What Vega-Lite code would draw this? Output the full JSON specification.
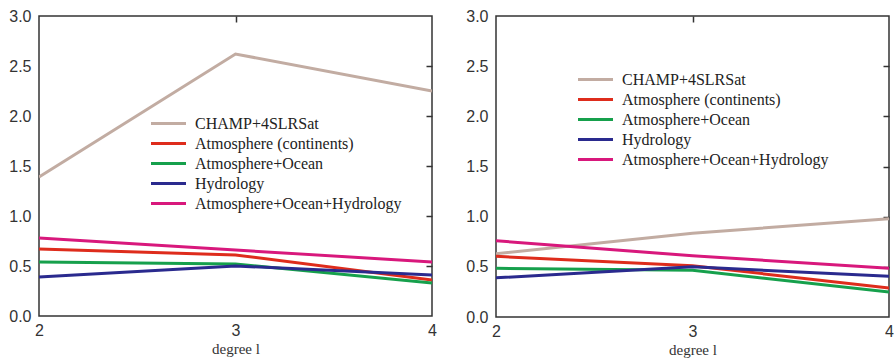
{
  "$schema": "https://vega.github.io/schema/vega-lite/v6.json",
  "background": "white",
  "padding": {"left": 8, "top": 7, "right": 6, "bottom": 0},
  "spacing": 27,
  "config": {
    "view": {"stroke": "#333333", "strokeWidth": 1.5},
    "axis": {
      "labelFont": "Liberation Sans",
      "labelFontSize": 16,
      "labelColor": "#333333",
      "titleFont": "Liberation Serif",
      "titleFontSize": 15,
      "titleFontWeight": "normal",
      "titleColor": "#333333",
      "grid": false,
      "domain": false,
      "labelOverlap": false,
      "tickColor": "#333333",
      "tickWidth": 1.5
    },
    "legend": {
      "labelFont": "Liberation Serif",
      "labelFontSize": 16,
      "labelColor": "#222222",
      "symbolType": "M-2,0H2",
      "symbolStrokeWidth": 3,
      "symbolSize": 306,
      "labelLimit": 400,
      "rowPadding": 1,
      "labelOffset": 16
    }
  },
  "datasets": {
    "rows": [
      {"panel": "L", "degree": 2, "series": "CHAMP+4SLRSat", "value": 1.39},
      {"panel": "L", "degree": 3, "series": "CHAMP+4SLRSat", "value": 2.62},
      {"panel": "L", "degree": 4, "series": "CHAMP+4SLRSat", "value": 2.25},
      {"panel": "L", "degree": 2, "series": "Atmosphere (continents)", "value": 0.67},
      {"panel": "L", "degree": 3, "series": "Atmosphere (continents)", "value": 0.61},
      {"panel": "L", "degree": 4, "series": "Atmosphere (continents)", "value": 0.36},
      {"panel": "L", "degree": 2, "series": "Atmosphere+Ocean", "value": 0.54},
      {"panel": "L", "degree": 3, "series": "Atmosphere+Ocean", "value": 0.52},
      {"panel": "L", "degree": 4, "series": "Atmosphere+Ocean", "value": 0.33},
      {"panel": "L", "degree": 2, "series": "Hydrology", "value": 0.39},
      {"panel": "L", "degree": 3, "series": "Hydrology", "value": 0.5},
      {"panel": "L", "degree": 4, "series": "Hydrology", "value": 0.41},
      {"panel": "L", "degree": 2, "series": "Atmosphere+Ocean+Hydrology", "value": 0.78},
      {"panel": "L", "degree": 3, "series": "Atmosphere+Ocean+Hydrology", "value": 0.66},
      {"panel": "L", "degree": 4, "series": "Atmosphere+Ocean+Hydrology", "value": 0.54},
      {"panel": "R", "degree": 2, "series": "CHAMP+4SLRSat", "value": 0.63},
      {"panel": "R", "degree": 3, "series": "CHAMP+4SLRSat", "value": 0.835},
      {"panel": "R", "degree": 4, "series": "CHAMP+4SLRSat", "value": 0.98},
      {"panel": "R", "degree": 2, "series": "Atmosphere (continents)", "value": 0.605},
      {"panel": "R", "degree": 3, "series": "Atmosphere (continents)", "value": 0.51},
      {"panel": "R", "degree": 4, "series": "Atmosphere (continents)", "value": 0.29},
      {"panel": "R", "degree": 2, "series": "Atmosphere+Ocean", "value": 0.485},
      {"panel": "R", "degree": 3, "series": "Atmosphere+Ocean", "value": 0.465},
      {"panel": "R", "degree": 4, "series": "Atmosphere+Ocean", "value": 0.25},
      {"panel": "R", "degree": 2, "series": "Hydrology", "value": 0.39},
      {"panel": "R", "degree": 3, "series": "Hydrology", "value": 0.5},
      {"panel": "R", "degree": 4, "series": "Hydrology", "value": 0.405},
      {"panel": "R", "degree": 2, "series": "Atmosphere+Ocean+Hydrology", "value": 0.76},
      {"panel": "R", "degree": 3, "series": "Atmosphere+Ocean+Hydrology", "value": 0.61},
      {"panel": "R", "degree": 4, "series": "Atmosphere+Ocean+Hydrology", "value": 0.485}
    ]
  },
  "resolve": {"scale": {"color": "independent"}, "legend": {"color": "independent"}},
  "hconcat": [
    {
      "width": 393,
      "height": 300,
      "data": {"name": "rows"},
      "transform": [{"filter": "datum.panel === 'L'"}],
      "resolve": {"axis": {"x": "independent", "y": "independent"}},
      "layer": [
        {
          "mark": {"type": "line", "strokeWidth": 3, "clip": true},
          "encoding": {
            "x": {"field": "degree", "type": "quantitative", "scale": {"domain": [2, 4], "nice": false, "zero": false},
                  "axis": {"orient": "bottom", "values": [2, 3, 4], "format": ".0f", "title": "degree l", "ticks": false, "labelPadding": 6, "titlePadding": 3, "labelFlush": false, "labelOverlap": false}},
            "y": {"field": "value", "type": "quantitative", "scale": {"domain": [0, 3], "nice": false},
                  "axis": {"orient": "left", "values": [0, 0.5, 1, 1.5, 2, 2.5, 3], "format": ".1f", "title": null, "ticks": false, "labelPadding": 8, "labelOverlap": false}},
            "color": {"field": "series", "type": "nominal",
                      "scale": {"domain": ["CHAMP+4SLRSat", "Atmosphere (continents)", "Atmosphere+Ocean", "Hydrology", "Atmosphere+Ocean+Hydrology"],
                                "range": ["#c2aca2", "#de2c1c", "#16a04c", "#2a2a8e", "#d8187c"]},
                      "legend": {"title": null, "orient": "none", "legendX": 119, "legendY": 97}},
            "order": {"field": "degree", "type": "quantitative"}
          }
        },
        {
          "mark": {"type": "line", "opacity": 0},
          "encoding": {
            "x": {"field": "degree", "type": "quantitative",
                  "axis": {"orient": "top", "values": [3], "labels": false, "title": null, "ticks": true, "tickSize": 6, "offset": -6}},
            "y": {"field": "value", "type": "quantitative",
                  "axis": {"orient": "right", "values": [0.5, 1, 1.5, 2, 2.5], "labels": false, "title": null, "ticks": true, "tickSize": 6, "offset": -6}}
          }
        }
      ]
    },
    {
      "width": 393,
      "height": 301,
      "data": {"name": "rows"},
      "transform": [{"filter": "datum.panel === 'R'"}],
      "resolve": {"axis": {"x": "independent", "y": "independent"}},
      "layer": [
        {
          "mark": {"type": "line", "strokeWidth": 3, "clip": true},
          "encoding": {
            "x": {"field": "degree", "type": "quantitative", "scale": {"domain": [2, 4], "nice": false, "zero": false},
                  "axis": {"orient": "bottom", "values": [2, 3, 4], "format": ".0f", "title": "degree l", "ticks": false, "labelPadding": 6, "titlePadding": 3, "labelFlush": false, "labelOverlap": false}},
            "y": {"field": "value", "type": "quantitative", "scale": {"domain": [0, 3], "nice": false},
                  "axis": {"orient": "left", "values": [0, 0.5, 1, 1.5, 2, 2.5, 3], "format": ".1f", "title": null, "ticks": false, "labelPadding": 8, "labelOverlap": false}},
            "color": {"field": "series", "type": "nominal",
                      "scale": {"domain": ["CHAMP+4SLRSat", "Atmosphere (continents)", "Atmosphere+Ocean", "Hydrology", "Atmosphere+Ocean+Hydrology"],
                                "range": ["#c2aca2", "#de2c1c", "#16a04c", "#2a2a8e", "#d8187c"]},
                      "legend": {"title": null, "orient": "none", "legendX": 89, "legendY": 53}},
            "order": {"field": "degree", "type": "quantitative"}
          }
        },
        {
          "mark": {"type": "line", "opacity": 0},
          "encoding": {
            "x": {"field": "degree", "type": "quantitative",
                  "axis": {"orient": "top", "values": [3], "labels": false, "title": null, "ticks": true, "tickSize": 6, "offset": -6}},
            "y": {"field": "value", "type": "quantitative",
                  "axis": {"orient": "right", "values": [0.5, 1, 1.5, 2, 2.5], "labels": false, "title": null, "ticks": true, "tickSize": 6, "offset": -6}}
          }
        }
      ]
    }
  ]
}
